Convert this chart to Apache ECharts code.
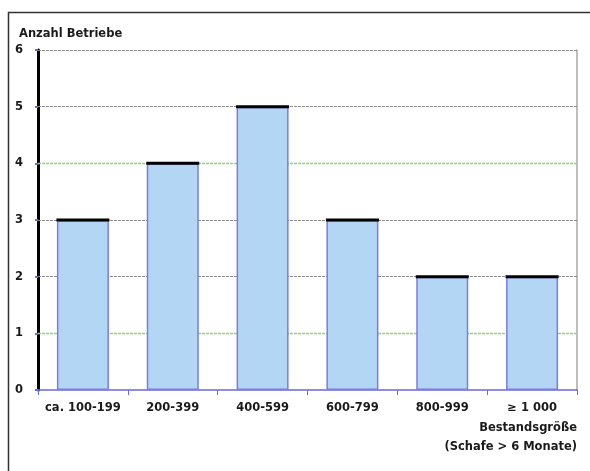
<!DOCTYPE html>
<html>
<head>
<meta charset="utf-8">
<script src="https://cdn.jsdelivr.net/npm/echarts@6/dist/echarts.min.js"></script>
<style>
html,body{margin:0;padding:0;background:#fff;}
#chart{width:590px;height:471px;}
</style>
</head>
<body>
<div id="chart"></div>
<script>
var categories = ['ca. 100-199', '200-399', '400-599', '600-799', '800-999', '\u2265 1 000'];
var betriebe = [3, 4, 5, 3, 2, 2];
var yTicks = [0, 1, 2, 3, 4, 5, 6];
var greenGridValues = [1, 4];
var yAxisTitle = 'Anzahl Betriebe';
var xAxisTitle = 'Bestandsgr\u00f6\u00dfe\n(Schafe > 6 Monate)';

var font = '"DejaVu Sans", sans-serif';
var fs = 11.5;
var chart = echarts.init(document.getElementById('chart'), null, {renderer: 'canvas'});

var gridLineData = yTicks.filter(function (v) { return v > yTicks[0]; }).map(function (v) {
  var green = greenGridValues.indexOf(v) >= 0;
  return {
    yAxis: v,
    lineStyle: green ? {color: '#92d27e', type: [3, 1], width: 1.3} : {color: '#8c8c8c', type: [3, 1], width: 1}
  };
});

chart.setOption({
  animation: false,
  backgroundColor: '#fff',
  title: {
    text: yAxisTitle,
    left: 14, top: 23,
    textStyle: {fontFamily: font, fontSize: fs, fontWeight: 'bold', color: '#1a1a1a'}
  },
  grid: {left: 38, right: 13, top: 50, bottom: 81, containLabel: false},
  xAxis: {
    type: 'category',
    data: categories,
    axisLine: {show: true, lineStyle: {color: '#6a6ad8', width: 1.5}},
    axisTick: {show: true, length: 5, lineStyle: {color: '#6a6ad8'}},
    axisLabel: {fontFamily: font, fontSize: fs, fontWeight: 'bold', color: '#1a1a1a', margin: 12, interval: 0},
    splitLine: {show: false}
  },
  yAxis: [{
    type: 'value',
    min: yTicks[0], max: yTicks[yTicks.length - 1], interval: 1,
    axisLine: {show: true, lineStyle: {color: '#000', width: 3}},
    axisTick: {show: true, length: 3, lineStyle: {color: '#6a6ad8', width: 2}},
    axisLabel: {fontFamily: font, fontSize: fs, fontWeight: 'bold', color: '#1a1a1a', margin: 15},
    splitLine: {show: false}
  }, {
    type: 'value', position: 'right',
    min: yTicks[0], max: yTicks[yTicks.length - 1], interval: 1,
    axisLine: {show: true, lineStyle: {color: '#a8a8a8', width: 1.5}},
    axisTick: {show: false}, axisLabel: {show: false}, splitLine: {show: false}
  }],
  series: [{
    type: 'bar',
    data: betriebe,
    barWidth: 52,
    z: 3,
    itemStyle: {color: '#b2d6f4', borderColor: '#7c7ce2', borderWidth: 1.5},
    markLine: {
      silent: true,
      symbol: 'none',
      z: 2,
      label: {show: false},
      emphasis: {disabled: true},
      data: gridLineData
    }
  }, {
    type: 'scatter',
    data: betriebe,
    symbol: 'rect',
    symbolSize: [53, 3],
    itemStyle: {color: '#000', opacity: 1},
    z: 5
  }],
  graphic: [{
    type: 'rect',
    shape: {x: 8.5, y: 12.5, width: 700, height: 600},
    style: {fill: 'none', stroke: '#333', lineWidth: 1.5},
    silent: true
  }, {
    type: 'text',
    style: {text: xAxisTitle, x: 577, y: 419, textAlign: 'right', fontFamily: font, fontSize: fs, fontWeight: 'bold', lineHeight: 18.5, fill: '#1a1a1a'}
  }]
});
</script>
</body>
</html>
